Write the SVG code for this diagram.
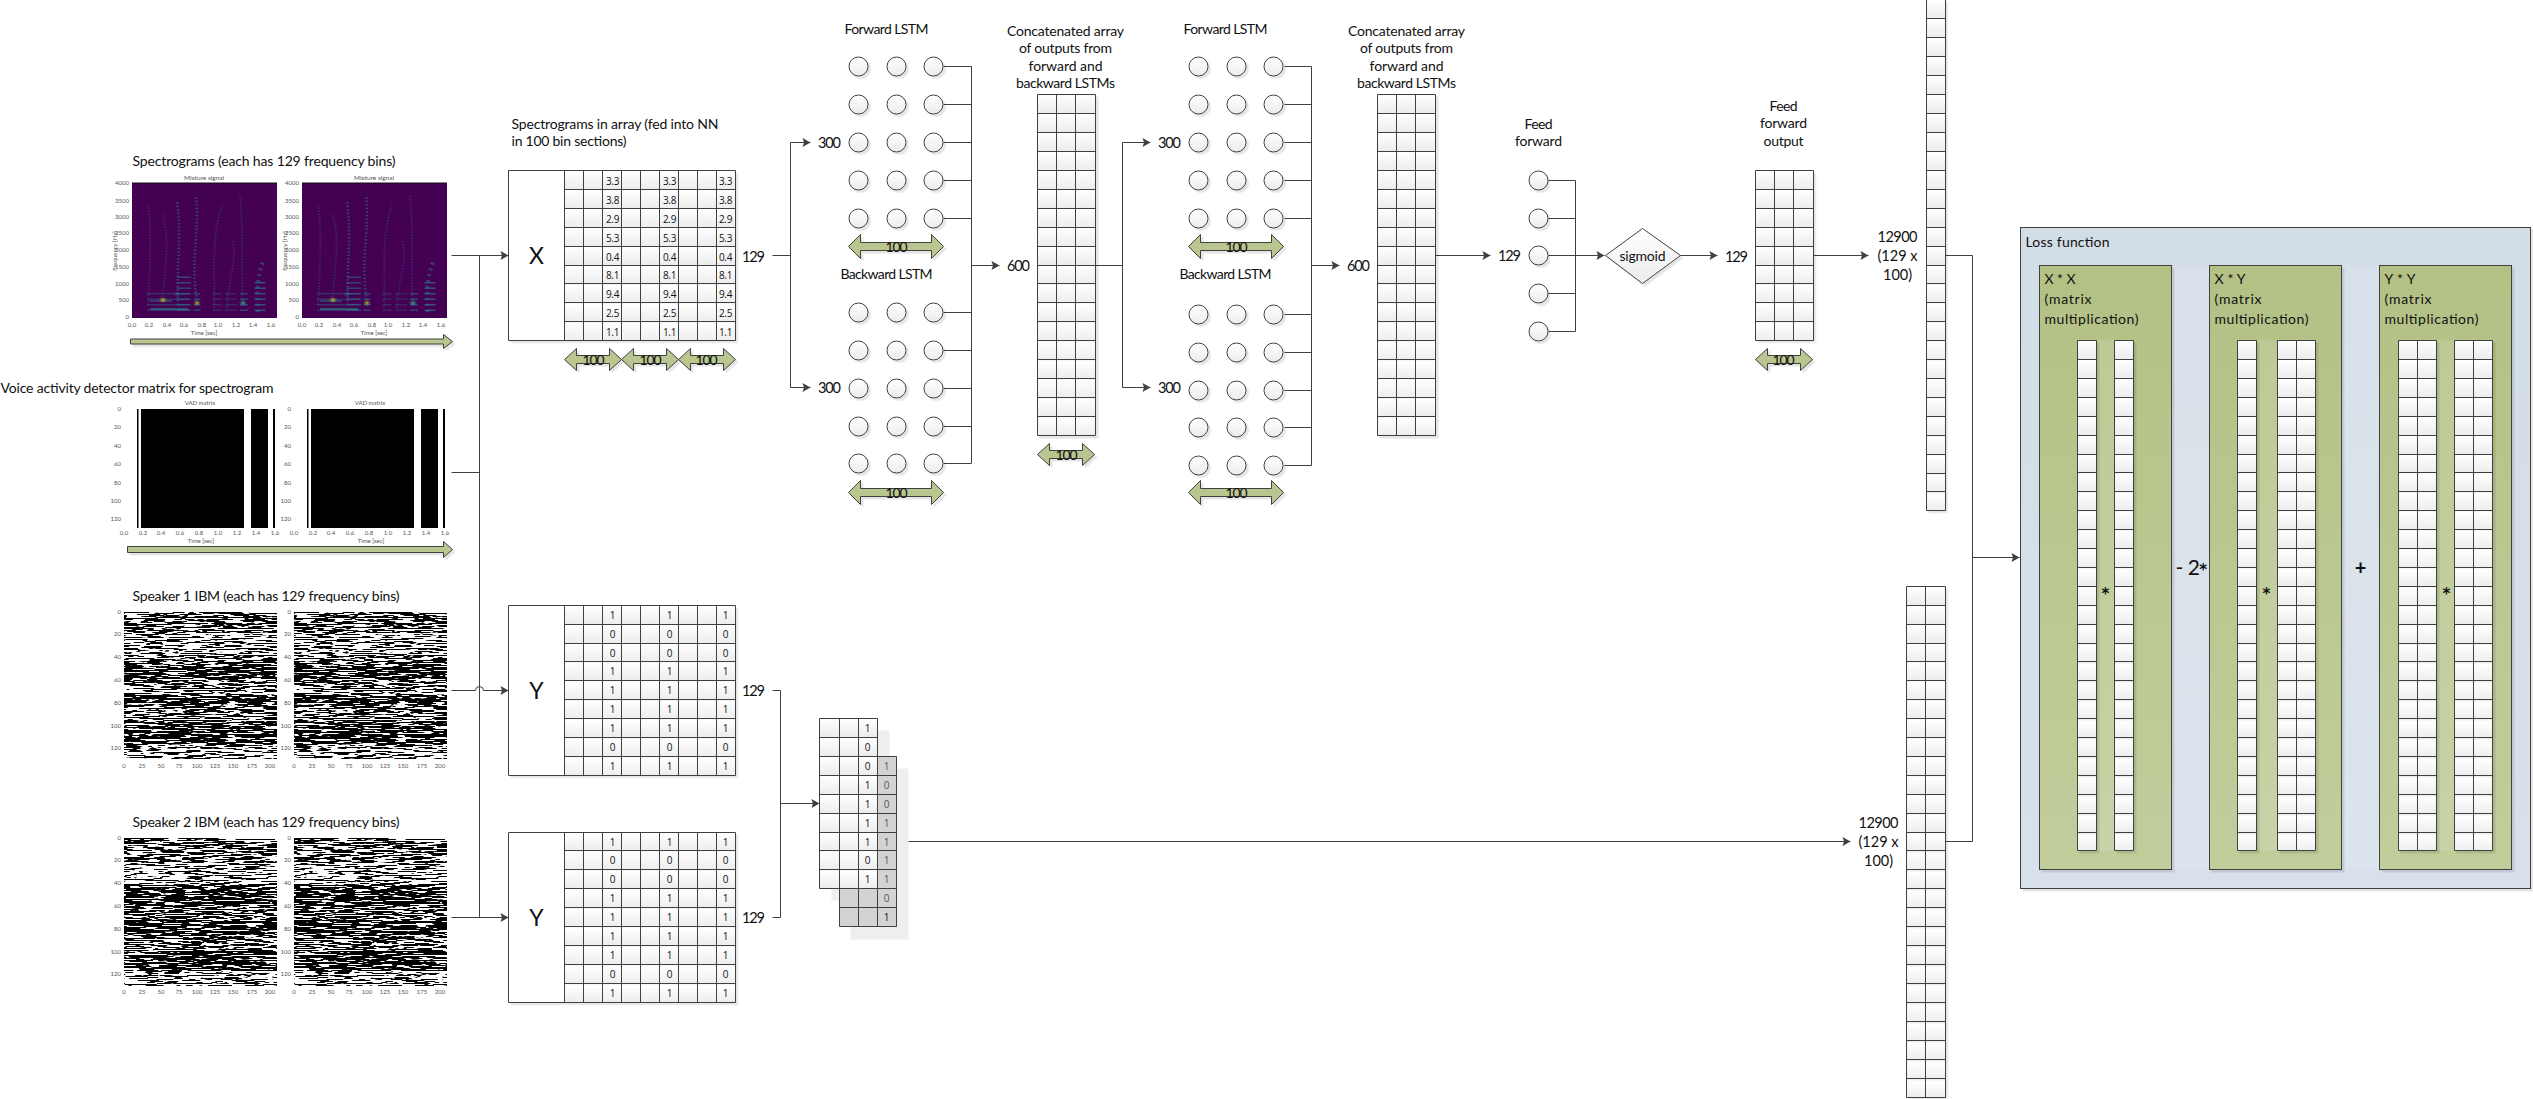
<svg xmlns="http://www.w3.org/2000/svg" width="2533" height="1099" viewBox="0 0 2533 1099">
<style>
text{font-family:Lato,"Open Sans",sans-serif;fill:#111}
.t{font-size:14px}
.m{text-anchor:middle}
.n{font-size:14.5px;text-anchor:middle}
.v{font-size:10px;text-anchor:middle;font-family:"Open Sans",sans-serif;letter-spacing:-.3px}
.l{font-size:23px;text-anchor:middle}
.s{font-size:6px;fill:#555;text-anchor:middle}
.e{text-anchor:end}
.st{font-family:"DejaVu Sans",sans-serif;font-size:15px;font-weight:700;text-anchor:middle}
.ln{fill:none;stroke:#404040;stroke-width:1}
.ar{fill:none;stroke:#404040;stroke-width:1;marker-end:url(#ah)}
.grn{fill:#b9c68f;stroke:#404040;stroke-width:1}
.node{fill:url(#cg);stroke:#404040;stroke-width:1}
.sh{filter:url(#ds)}
</style>
<defs>
<linearGradient id="cg" x1="0" y1="0" x2="0" y2="1"><stop offset="0" stop-color="#fff"/><stop offset="1" stop-color="#ececec"/></linearGradient>
<linearGradient id="outer" x1="0" y1="0" x2="0" y2="1"><stop offset="0" stop-color="#d3dde6"/><stop offset="1" stop-color="#d8e1eb"/></linearGradient>
<linearGradient id="inner" x1="0" y1="0" x2="0" y2="1"><stop offset="0" stop-color="#b3c185"/><stop offset="1" stop-color="#c1ce9c"/></linearGradient>
<pattern id="c94" width="19" height="19" y="94" patternUnits="userSpaceOnUse"><rect width="19" height="19" fill="url(#cg)"/></pattern>
<pattern id="c605" width="19" height="19" y="605" patternUnits="userSpaceOnUse"><rect width="19" height="19" fill="url(#cg)"/></pattern>
<pattern id="c832" width="19" height="19" y="832" patternUnits="userSpaceOnUse"><rect width="19" height="19" fill="url(#cg)"/></pattern>
<pattern id="c718" width="19" height="19" y="718" patternUnits="userSpaceOnUse"><rect width="19" height="19" fill="url(#cg)"/></pattern>
<pattern id="c340" width="19" height="19" y="340" patternUnits="userSpaceOnUse"><rect width="19" height="19" fill="url(#cg)"/></pattern>
<pattern id="c586" width="19" height="19" y="586" patternUnits="userSpaceOnUse"><rect width="19" height="19" fill="url(#cg)"/></pattern>
<marker id="ah" markerUnits="userSpaceOnUse" markerWidth="9" markerHeight="10" refX="8" refY="4" orient="auto" overflow="visible"><path d="M0 -.5L8 4L0 8.5L1.5 4z" fill="#404040"/></marker>
<filter id="ds" x="-5%" y="-5%" width="115%" height="115%"><feDropShadow dx="2.5" dy="2.5" stdDeviation="0" flood-color="#000" flood-opacity=".1"/></filter>
<filter id="bl" x="-10%" y="-10%" width="120%" height="120%"><feGaussianBlur stdDeviation=".5"/></filter>
<filter id="bl2" x="-50%" y="-50%" width="200%" height="200%"><feGaussianBlur stdDeviation=".8"/></filter>
<filter id="fd" x="0" y="0" width="1" height="1" color-interpolation-filters="sRGB"><feTurbulence type="fractalNoise" baseFrequency="0.05 0.8" numOctaves="3" seed="7"/><feColorMatrix values="30 0 0 0 -17 30 0 0 0 -17 30 0 0 0 -17 0 0 0 0 1"/></filter>
<filter id="fm" x="0" y="0" width="1" height="1" color-interpolation-filters="sRGB"><feTurbulence type="fractalNoise" baseFrequency="0.05 0.8" numOctaves="3" seed="7"/><feColorMatrix values="30 0 0 0 -15 30 0 0 0 -15 30 0 0 0 -15 0 0 0 0 1"/></filter>
<filter id="fs" x="0" y="0" width="1" height="1" color-interpolation-filters="sRGB"><feTurbulence type="fractalNoise" baseFrequency="0.05 0.8" numOctaves="3" seed="7"/><feColorMatrix values="30 0 0 0 -13.5 30 0 0 0 -13.5 30 0 0 0 -13.5 0 0 0 0 1"/></filter>
<g id="ibm1"><rect width="153" height="20" filter="url(#fm)"/><rect y="20" width="153" height="23" filter="url(#fs)"/><rect y="43" width="153" height="12" filter="url(#fm)"/><rect y="55" width="153" height="12" filter="url(#fd)"/><rect y="67" width="153" height="10" filter="url(#fm)"/><rect y="77" width="153" height="6" filter="url(#fs)"/><rect y="83" width="153" height="10" filter="url(#fd)"/><rect y="93" width="153" height="19" filter="url(#fm)"/><rect y="112" width="153" height="20" filter="url(#fd)"/><rect y="132" width="153" height="15" filter="url(#fs)"/></g>
<g id="ibm2"><rect y="500" width="153" height="25" filter="url(#fm)"/><rect y="525" width="153" height="22" filter="url(#fs)"/><rect y="547" width="153" height="21" filter="url(#fd)"/><rect y="568" width="153" height="14" filter="url(#fm)"/><rect y="582" width="153" height="15" filter="url(#fd)"/><rect y="597" width="153" height="16" filter="url(#fm)"/><rect y="613" width="153" height="20" filter="url(#fd)"/><rect y="633" width="153" height="15" filter="url(#fs)"/></g>
<g id="ibmx"><text class="s" x="124" y="768">0</text><text class="s" x="142" y="768">25</text><text class="s" x="161" y="768">50</text><text class="s" x="179" y="768">75</text><text class="s" x="197" y="768">100</text><text class="s" x="215" y="768">125</text><text class="s" x="233" y="768">150</text><text class="s" x="252" y="768">175</text><text class="s" x="270" y="768">200</text><text class="s e" x="121" y="614">0</text><text class="s e" x="121" y="636">20</text><text class="s e" x="121" y="659">40</text><text class="s e" x="121" y="682">60</text><text class="s e" x="121" y="705">80</text><text class="s e" x="121" y="728">100</text><text class="s e" x="121" y="750">120</text></g>
<g id="spec">
<rect x="132" y="183" width="145" height="135" fill="#440154"/>
<path d="M132 183H277" stroke="#111" stroke-width="1"/>
<g filter="url(#bl)" fill="none">
<g stroke="#3b528b" stroke-width="2" stroke-dasharray="1.5 1.5" opacity=".4">
<path d="M148 305C150 270 152 230 148 205"/><path d="M162 300C165 270 170 240 163 215"/><path d="M214 308C216 280 210 240 222 205"/><path d="M227 308C228 280 238 260 232 240"/><path d="M243 305C241 280 244 240 240 195"/>
</g>
<g stroke="#31688e" stroke-width="2.5" stroke-dasharray="1.5 2" opacity=".6">
<path d="M178 305C176 270 182 240 177 200"/><path d="M197 300C190 260 200 230 196 195"/><path d="M258 312C256 290 258 275 263 262" stroke-width="4" stroke-dasharray="2 4"/>
</g>
<g stroke="#2c728e" stroke-dasharray="1.5 4">
<path d="M168 311V289" stroke-width="42" opacity=".4"/><path d="M184 311V276" stroke-width="14" opacity=".55"/><path d="M197 311V290" stroke-width="7" opacity=".55"/><path d="M217 311V292" stroke-width="9" opacity=".35"/><path d="M231 311V292" stroke-width="12" opacity=".3"/><path d="M244 311V292" stroke-width="8" opacity=".55"/><path d="M260 311V280" stroke-width="11" opacity=".7"/>
</g>
<path d="M150 309H188" stroke="#26a08a" stroke-width="1.2"/><path d="M150 301H172" stroke="#2c8a8e" stroke-width=".8"/>
</g>
<g filter="url(#bl2)"><ellipse cx="163" cy="300" rx="2.6" ry="1.3" fill="#d8e219"/><ellipse cx="197" cy="303" rx="2.2" ry="1.4" fill="#b5de2b"/><ellipse cx="243" cy="303" rx="2.6" ry="1.5" fill="#35b779"/><ellipse cx="177" cy="294" rx="1.5" ry="1.1" fill="#2a9d8f"/></g>
<text class="s" x="204" y="180" style="font-size:6.5px">Mixture signal</text>
<text class="s e" x="129" y="185">4000</text><text class="s e" x="129" y="203">3500</text><text class="s e" x="129" y="219">3000</text><text class="s e" x="129" y="235">2500</text><text class="s e" x="129" y="252">2000</text><text class="s e" x="129" y="269">1500</text><text class="s e" x="129" y="286">1000</text><text class="s e" x="129" y="302">500</text><text class="s e" x="129" y="319">0</text>
<text class="s" x="132" y="327">0.0</text><text class="s" x="149" y="327">0.2</text><text class="s" x="167" y="327">0.4</text><text class="s" x="184" y="327">0.6</text><text class="s" x="202" y="327">0.8</text><text class="s" x="218" y="327">1.0</text><text class="s" x="236" y="327">1.2</text><text class="s" x="253" y="327">1.4</text><text class="s" x="271" y="327">1.6</text>
<text class="s" x="204" y="335">Time [sec]</text>
<text class="s" transform="translate(117 251) rotate(-90)">Frequency [Hz]</text>
</g>
<g id="vad">
<path d="M137 409h1.5v119h-1.5zM141 409h103v119h-103zM251 409h17v119h-17zM273 409h2v119h-2z" fill="#000"/>
<text class="s" x="200" y="405">VAD matrix</text>
<text class="s e" x="121" y="411">0</text><text class="s e" x="121" y="429">20</text><text class="s e" x="121" y="448">40</text><text class="s e" x="121" y="466">60</text><text class="s e" x="121" y="485">80</text><text class="s e" x="121" y="503">100</text><text class="s e" x="121" y="521">120</text>
<text class="s" x="124" y="535">0.0</text><text class="s" x="143" y="535">0.2</text><text class="s" x="161" y="535">0.4</text><text class="s" x="180" y="535">0.6</text><text class="s" x="199" y="535">0.8</text><text class="s" x="218" y="535">1.0</text><text class="s" x="237" y="535">1.2</text><text class="s" x="256" y="535">1.4</text><text class="s" x="275" y="535">1.6</text>
<text class="s" x="201" y="543">Time [sec]</text>
</g>
<circle id="nc" r="9.5" class="node"/>
<g id="r3"><use href="#nc"/><use href="#nc" x="38"/><use href="#nc" x="75"/></g>
<path id="d57" class="grn" d="M0 0L12 -11V-4H45V-11L57 0L45 11V4H12V11z"/>
<path id="d95" class="grn" d="M0 0L12 -12V-4H83V-12L95 0L83 12V4H12V12z"/>
<g id="a18"><rect y="94" width="58" height="341" fill="url(#c94)"/><path class="ln" d="M0 94h58v341h-58zM19 94v341M38 94v341M0 113h58M0 132h58M0 151h58M0 170h58M0 189h58M0 208h58M0 227h58M0 246h58M0 265h58M0 283h58M0 302h58M0 321h58M0 340h58M0 359h58M0 378h58M0 397h58M0 416h58"/></g>
<g id="lc"><rect y="340" width="19" height="510" fill="url(#c340)"/><path class="ln" d="M0 340h19v510h-19zM0 359h19M0 378h19M0 397h19M0 416h19M0 435h19M0 454h19M0 472h19M0 491h19M0 510h19M0 529h19M0 548h19M0 567h19M0 586h19M0 605h19M0 624h19M0 643h19M0 661h19M0 680h19M0 699h19M0 718h19M0 737h19M0 756h19M0 775h19M0 794h19M0 813h19M0 832h19"/></g>
</defs>

<rect width="2533" height="1099" fill="#fff"/>

<g id="spectrogram-plots">
<use href="#spec"/><use href="#spec" x="170"/>
</g>
<g id="vad-plots">
<use href="#vad"/><use href="#vad" x="170"/>
</g>
<g id="ibm1-plots">
<use href="#ibm1" x="124" y="612"/><use href="#ibm1" x="294" y="612"/><use href="#ibmx"/><use href="#ibmx" x="170"/>
</g>
<g id="ibm2-plots">
<use href="#ibm2" x="124" y="338"/><use href="#ibm2" x="294" y="338"/><use href="#ibmx" y="226"/><use href="#ibmx" x="170" y="226"/>
</g>

<g transform="translate(.5 .5)">
<g id="captions">
<text class="t" x="132" y="165" textLength="263">Spectrograms (each has 129 frequency bins)</text>
<text class="t" x="0" y="392" textLength="273">Voice activity detector matrix for spectrogram</text>
<text class="t" x="132" y="600" textLength="267">Speaker 1 IBM (each has 129 frequency bins)</text>
<text class="t" x="132" y="826" textLength="267">Speaker 2 IBM (each has 129 frequency bins)</text>
<text class="t" x="511" y="128" textLength="207">Spectrograms in array (fed into NN</text>
<text class="t" x="511" y="145" textLength="115">in 100 bin sections)</text>
</g>
<g id="time-arrows">
<path class="grn sh" d="M130 338.5H443V334L452 341L443 348V343.5H130z"/>
<path class="grn sh" d="M127 546H443V541L452 549L443 557V552H127z"/>
</g>

<g id="connectors">
<path class="ln" d="M479 255V917M451 472H479"/>
<path class="ar" d="M451 255H508"/>
<path class="ar" d="M451 690H475A4 4 0 0 1 483 690H508"/>
<path class="ar" d="M451 917H508"/>
<path class="ln" d="M772 255H790M790 142V387"/>
<path class="ar" d="M790 142H810"/><path class="ar" d="M790 387H810"/>
<path class="ln" d="M943 66H971M943 104H971M943 142H971M943 180H971M943 218H971M943 312H971M943 350H971M943 388H971M943 426H971M943 463H971M971 66V463"/>
<path class="ar" d="M971 265H999"/>
<path class="ln" d="M1095 265H1122M1122 142V387"/>
<path class="ar" d="M1122 142H1150"/><path class="ar" d="M1122 387H1150"/>
<path class="ln" d="M1284 66H1311M1284 104H1311M1284 142H1311M1284 180H1311M1284 218H1311M1284 314H1311M1284 352H1311M1284 390H1311M1284 427H1311M1284 465H1311M1311 66V465"/>
<path class="ar" d="M1311 265H1339"/>
<path class="ar" d="M1435 255H1490"/>
<path class="ln" d="M1548 180H1575M1548 218H1575M1548 293H1575M1548 331H1575M1575 180V331"/>
<path class="ar" d="M1548 255H1604"/>
<path class="ar" d="M1680 255H1717"/>
<path class="ar" d="M1813 255H1868"/>
<path class="ln" d="M1945 255H1972V841H1945"/>
<path class="ar" d="M1972 557H2019"/>
<path class="ln" d="M772 690H780V917H772"/>
<path class="ar" d="M780 803H819"/>
<path class="ar" d="M896 841H1850"/>
</g>

<g id="array-x">
<g class="sh"><rect x="508" y="170" width="56" height="170" fill="#fff"/><rect x="564" y="170" width="171" height="170" fill="url(#c94)"/></g>
<path class="ln" d="M508 170H735V340H508zM564 170V340M583 170V340M602 170V340M621 170V340M640 170V340M659 170V340M678 170V340M697 170V340M716 170V340M564 189H735M564 208H735M564 227H735M564 246H735M564 265H735M564 283H735M564 302H735M564 321H735"/>
<text class="l" x="536" y="263">X</text>
<text class="v" x="612" y="184">3.3</text><text class="v" x="612" y="203">3.8</text><text class="v" x="612" y="222">2.9</text><text class="v" x="612" y="241">5.3</text><text class="v" x="612" y="260">0.4</text><text class="v" x="612" y="278">8.1</text><text class="v" x="612" y="297">9.4</text><text class="v" x="612" y="316">2.5</text><text class="v" x="612" y="335">1.1</text>
<text class="v" x="669" y="184">3.3</text><text class="v" x="669" y="203">3.8</text><text class="v" x="669" y="222">2.9</text><text class="v" x="669" y="241">5.3</text><text class="v" x="669" y="260">0.4</text><text class="v" x="669" y="278">8.1</text><text class="v" x="669" y="297">9.4</text><text class="v" x="669" y="316">2.5</text><text class="v" x="669" y="335">1.1</text>
<text class="v" x="725" y="184">3.3</text><text class="v" x="725" y="203">3.8</text><text class="v" x="725" y="222">2.9</text><text class="v" x="725" y="241">5.3</text><text class="v" x="725" y="260">0.4</text><text class="v" x="725" y="278">8.1</text><text class="v" x="725" y="297">9.4</text><text class="v" x="725" y="316">2.5</text><text class="v" x="725" y="335">1.1</text>
<g class="sh"><use href="#d57" x="564" y="359"/><use href="#d57" x="621" y="359"/><use href="#d57" x="678" y="359"/></g>
<text class="t m" x="593" y="364" textLength="22">100</text><text class="t m" x="650" y="364" textLength="22">100</text><text class="t m" x="706" y="364" textLength="22">100</text>
<text class="n" x="753" y="261" textLength="23">129</text>
</g>

<g id="array-y1">
<g class="sh"><rect x="508" y="605" width="56" height="170" fill="#fff"/><rect x="564" y="605" width="171" height="170" fill="url(#c605)"/></g>
<path class="ln" d="M508 605H735V775H508zM564 605V775M583 605V775M602 605V775M621 605V775M640 605V775M659 605V775M678 605V775M697 605V775M716 605V775M564 624H735M564 643H735M564 661H735M564 680H735M564 699H735M564 718H735M564 737H735M564 756H735"/>
<text class="l" x="536" y="698">Y</text>
<text class="v" x="612" y="618">1</text><text class="v" x="612" y="637">0</text><text class="v" x="612" y="656">0</text><text class="v" x="612" y="674">1</text><text class="v" x="612" y="693">1</text><text class="v" x="612" y="712">1</text><text class="v" x="612" y="731">1</text><text class="v" x="612" y="750">0</text><text class="v" x="612" y="769">1</text>
<text class="v" x="669" y="618">1</text><text class="v" x="669" y="637">0</text><text class="v" x="669" y="656">0</text><text class="v" x="669" y="674">1</text><text class="v" x="669" y="693">1</text><text class="v" x="669" y="712">1</text><text class="v" x="669" y="731">1</text><text class="v" x="669" y="750">0</text><text class="v" x="669" y="769">1</text>
<text class="v" x="725" y="618">1</text><text class="v" x="725" y="637">0</text><text class="v" x="725" y="656">0</text><text class="v" x="725" y="674">1</text><text class="v" x="725" y="693">1</text><text class="v" x="725" y="712">1</text><text class="v" x="725" y="731">1</text><text class="v" x="725" y="750">0</text><text class="v" x="725" y="769">1</text>
<text class="n" x="753" y="695" textLength="23">129</text>
</g>

<g id="array-y2">
<g class="sh"><rect x="508" y="832" width="56" height="170" fill="#fff"/><rect x="564" y="832" width="171" height="170" fill="url(#c832)"/></g>
<path class="ln" d="M508 832H735V1002H508zM564 832V1002M583 832V1002M602 832V1002M621 832V1002M640 832V1002M659 832V1002M678 832V1002M697 832V1002M716 832V1002M564 850H735M564 869H735M564 888H735M564 907H735M564 926H735M564 945H735M564 964H735M564 983H735"/>
<text class="l" x="536" y="925">Y</text>
<text class="v" x="612" y="845">1</text><text class="v" x="612" y="863">0</text><text class="v" x="612" y="882">0</text><text class="v" x="612" y="901">1</text><text class="v" x="612" y="920">1</text><text class="v" x="612" y="939">1</text><text class="v" x="612" y="958">1</text><text class="v" x="612" y="977">0</text><text class="v" x="612" y="996">1</text>
<text class="v" x="669" y="845">1</text><text class="v" x="669" y="863">0</text><text class="v" x="669" y="882">0</text><text class="v" x="669" y="901">1</text><text class="v" x="669" y="920">1</text><text class="v" x="669" y="939">1</text><text class="v" x="669" y="958">1</text><text class="v" x="669" y="977">0</text><text class="v" x="669" y="996">1</text>
<text class="v" x="725" y="845">1</text><text class="v" x="725" y="863">0</text><text class="v" x="725" y="882">0</text><text class="v" x="725" y="901">1</text><text class="v" x="725" y="920">1</text><text class="v" x="725" y="939">1</text><text class="v" x="725" y="958">1</text><text class="v" x="725" y="977">0</text><text class="v" x="725" y="996">1</text>
<text class="n" x="753" y="922" textLength="23">129</text>
</g>

<g id="stacked-y">
<rect x="850" y="768" width="58" height="171" fill="#eee"/>
<rect x="831" y="730" width="58" height="170" fill="#eee"/>
<rect x="839" y="756" width="57" height="170" fill="#d3d3d3"/>
<path class="ln" d="M839 756H896V926H839zM858 888V926M877 756V926M877 775H896M877 794H896M877 813H896M877 832H896M877 850H896M877 869H896M839 888H896M839 907H896"/>
<text class="v" x="886" y="769" style="fill:#555">1</text><text class="v" x="886" y="788" style="fill:#555">0</text><text class="v" x="886" y="807" style="fill:#555">0</text><text class="v" x="886" y="826" style="fill:#555">1</text><text class="v" x="886" y="845" style="fill:#555">1</text><text class="v" x="886" y="863" style="fill:#555">1</text><text class="v" x="886" y="882" style="fill:#555">1</text><text class="v" x="886" y="901" style="fill:#555">0</text><text class="v" x="886" y="920">1</text>
<rect x="819" y="718" width="58" height="170" fill="url(#c718)"/>
<path class="ln" d="M819 718H877V888H819zM839 718V888M858 718V888M819 737H877M819 756H877M819 775H877M819 794H877M819 813H877M819 832H877M819 850H877M819 869H877"/>
<text class="v" x="867" y="731">1</text><text class="v" x="867" y="750">0</text><text class="v" x="867" y="769">0</text><text class="v" x="867" y="788">1</text><text class="v" x="867" y="807">1</text><text class="v" x="867" y="826">1</text><text class="v" x="867" y="845">1</text><text class="v" x="867" y="863">0</text><text class="v" x="867" y="882">1</text>
</g>

<g id="lstm-1">
<text class="t m" x="886" y="33" textLength="84">Forward LSTM</text>
<g class="sh"><use href="#r3" x="858" y="66"/><use href="#r3" x="858" y="104"/><use href="#r3" x="858" y="142"/><use href="#r3" x="858" y="180"/><use href="#r3" x="858" y="218"/></g>
<g class="sh"><use href="#d95" x="848" y="246"/></g><text class="t m" x="896" y="251" textLength="22">100</text>
<text class="t m" x="886" y="278" textLength="92">Backward LSTM</text>
<g class="sh"><use href="#r3" x="858" y="312"/><use href="#r3" x="858" y="350"/><use href="#r3" x="858" y="388"/><use href="#r3" x="858" y="426"/><use href="#r3" x="858" y="463"/></g>
<g class="sh"><use href="#d95" x="848" y="492"/></g><text class="t m" x="896" y="497" textLength="22">100</text>
<text class="n" x="829" y="147" textLength="23">300</text><text class="n" x="829" y="392" textLength="23">300</text>
<text class="n" x="1018" y="270" textLength="23">600</text>
</g>

<g id="concat-1">
<text class="t m" x="1065" y="35" textLength="117">Concatenated array</text><text class="t m" x="1065" y="52" textLength="93">of outputs from</text><text class="t m" x="1065" y="70" textLength="74">forward and</text><text class="t m" x="1065" y="87" textLength="99">backward LSTMs</text>
<use class="sh" href="#a18" x="1037"/>
<g class="sh"><use href="#d57" x="1037" y="454"/></g><text class="t m" x="1066" y="459" textLength="22">100</text>
</g>

<g id="lstm-2">
<text class="t m" x="1225" y="33" textLength="84">Forward LSTM</text>
<g class="sh"><use href="#r3" x="1198" y="66"/><use href="#r3" x="1198" y="104"/><use href="#r3" x="1198" y="142"/><use href="#r3" x="1198" y="180"/><use href="#r3" x="1198" y="218"/></g>
<g class="sh"><use href="#d95" x="1188" y="246"/></g><text class="t m" x="1236" y="251" textLength="22">100</text>
<text class="t m" x="1225" y="278" textLength="92">Backward LSTM</text>
<g class="sh"><use href="#r3" x="1198" y="314"/><use href="#r3" x="1198" y="352"/><use href="#r3" x="1198" y="390"/><use href="#r3" x="1198" y="427"/><use href="#r3" x="1198" y="465"/></g>
<g class="sh"><use href="#d95" x="1188" y="492"/></g><text class="t m" x="1236" y="497" textLength="22">100</text>
<text class="n" x="1169" y="147" textLength="23">300</text><text class="n" x="1169" y="392" textLength="23">300</text>
<text class="n" x="1358" y="270" textLength="23">600</text>
</g>

<g id="concat-2">
<text class="t m" x="1406" y="35" textLength="117">Concatenated array</text><text class="t m" x="1406" y="52" textLength="93">of outputs from</text><text class="t m" x="1406" y="70" textLength="74">forward and</text><text class="t m" x="1406" y="87" textLength="99">backward LSTMs</text>
<use class="sh" href="#a18" x="1377"/>
</g>

<g id="feed-forward">
<text class="t m" x="1538" y="128" textLength="28">Feed</text><text class="t m" x="1538" y="145" textLength="47">forward</text>
<g class="sh"><use href="#nc" x="1538" y="180"/><use href="#nc" x="1538" y="218"/><use href="#nc" x="1538" y="255"/><use href="#nc" x="1538" y="293"/><use href="#nc" x="1538" y="331"/></g>
<text class="n" x="1509" y="260" textLength="23">129</text>
</g>

<g id="sigmoid">
<path class="node sh" d="M1605 255L1642 228L1680 255L1642 283z"/>
<text class="t m" x="1642" y="260" textLength="46">sigmoid</text>
</g>

<g id="ff-output">
<text class="t m" x="1783" y="110" textLength="28">Feed</text><text class="t m" x="1783" y="127" textLength="47">forward</text><text class="t m" x="1783" y="145" textLength="40">output</text>
<g class="sh"><rect x="1755" y="170" width="58" height="170" fill="url(#c94)"/></g>
<path class="ln" d="M1755 170H1813V340H1755zM1774 170V340M1793 170V340M1755 189H1813M1755 208H1813M1755 227H1813M1755 246H1813M1755 265H1813M1755 283H1813M1755 302H1813M1755 321H1813"/>
<g class="sh"><use href="#d57" x="1755" y="359"/></g><text class="t m" x="1783" y="364" textLength="22">100</text>
<text class="n" x="1736" y="261" textLength="23">129</text>
</g>

<g id="flat-x">
<text class="n" x="1897" y="241" textLength="40">12900</text><text class="n" x="1897" y="260" textLength="40">(129 x</text><text class="n" x="1897" y="279" textLength="29">100)</text>
<g class="sh"><rect x="1926" y="-1" width="19" height="511" fill="url(#c94)"/></g>
<path class="ln" d="M1926 -1H1945V510H1926zM1926 18H1945M1926 37H1945M1926 56H1945M1926 75H1945M1926 94H1945M1926 113H1945M1926 132H1945M1926 151H1945M1926 170H1945M1926 189H1945M1926 208H1945M1926 227H1945M1926 246H1945M1926 265H1945M1926 283H1945M1926 302H1945M1926 321H1945M1926 340H1945M1926 359H1945M1926 378H1945M1926 397H1945M1926 416H1945M1926 435H1945M1926 454H1945M1926 473H1945M1926 491H1945"/>
</g>

<g id="flat-y">
<text class="n" x="1878" y="827" textLength="40">12900</text><text class="n" x="1878" y="846" textLength="40">(129 x</text><text class="n" x="1878" y="865" textLength="29">100)</text>
<g class="sh"><rect x="1906" y="586" width="39" height="511" fill="url(#c586)"/></g>
<path class="ln" d="M1906 586H1945V1097H1906zM1925 586V1097M1906 605H1945M1906 624H1945M1906 643H1945M1906 661H1945M1906 680H1945M1906 699H1945M1906 718H1945M1906 737H1945M1906 756H1945M1906 775H1945M1906 794H1945M1906 813H1945M1906 832H1945M1906 850H1945M1906 869H1945M1906 888H1945M1906 907H1945M1906 926H1945M1906 945H1945M1906 964H1945M1906 983H1945M1906 1002H1945M1906 1021H1945M1906 1040H1945M1906 1059H1945M1906 1078H1945"/>
</g>

<g id="loss-function">
<rect class="sh" x="2020" y="227" width="510" height="661" fill="url(#outer)" stroke="#404040"/>
<text class="t" x="2025" y="246" textLength="84">Loss function</text>
<rect x="2172" y="265" width="37" height="604" fill="#fff" opacity=".12"/>
<rect x="2342" y="265" width="37" height="604" fill="#fff" opacity=".12"/>
<text x="2175" y="574" style="font-size:21px;letter-spacing:-.5px">- 2<tspan style="font-family:'DejaVu Sans',sans-serif;font-size:15px;font-weight:700">*</tspan></text>
<text x="2360" y="574" class="m" style="font-size:20px;font-weight:700">+</text>
</g>

<g id="loss-xx">
<rect class="sh" x="2039" y="265" width="132" height="604" fill="url(#inner)" stroke="#404040"/>
<text class="t" x="2044" y="283" textLength="31">X * X</text><text class="t" x="2044" y="303" textLength="47">(matrix</text><text class="t" x="2044" y="323" textLength="94">multiplication)</text>
<rect x="2097" y="340" width="17" height="510" fill="#fff" opacity=".12"/>
<g class="sh"><use href="#lc" x="2077"/><use href="#lc" x="2114"/></g>
<text x="2105" y="598" class="st">*</text>
</g>
<g id="loss-xy">
<rect class="sh" x="2209" y="265" width="132" height="604" fill="url(#inner)" stroke="#404040"/>
<text class="t" x="2214" y="283" textLength="31">X * Y</text><text class="t" x="2214" y="303" textLength="47">(matrix</text><text class="t" x="2214" y="323" textLength="94">multiplication)</text>
<rect x="2258" y="340" width="19" height="510" fill="#fff" opacity=".12"/>
<g class="sh"><use href="#lc" x="2237"/><use href="#lc" x="2277"/><use href="#lc" x="2296"/></g>
<text x="2266" y="598" class="st">*</text>
</g>
<g id="loss-yy">
<rect class="sh" x="2379" y="265" width="132" height="604" fill="url(#inner)" stroke="#404040"/>
<text class="t" x="2384" y="283" textLength="31">Y * Y</text><text class="t" x="2384" y="303" textLength="47">(matrix</text><text class="t" x="2384" y="323" textLength="94">multiplication)</text>
<rect x="2437" y="340" width="17" height="510" fill="#fff" opacity=".12"/>
<g class="sh"><use href="#lc" x="2398"/><use href="#lc" x="2417"/><use href="#lc" x="2454"/><use href="#lc" x="2473"/></g>
<text x="2446" y="598" class="st">*</text>
</g>
</g>
</svg>
